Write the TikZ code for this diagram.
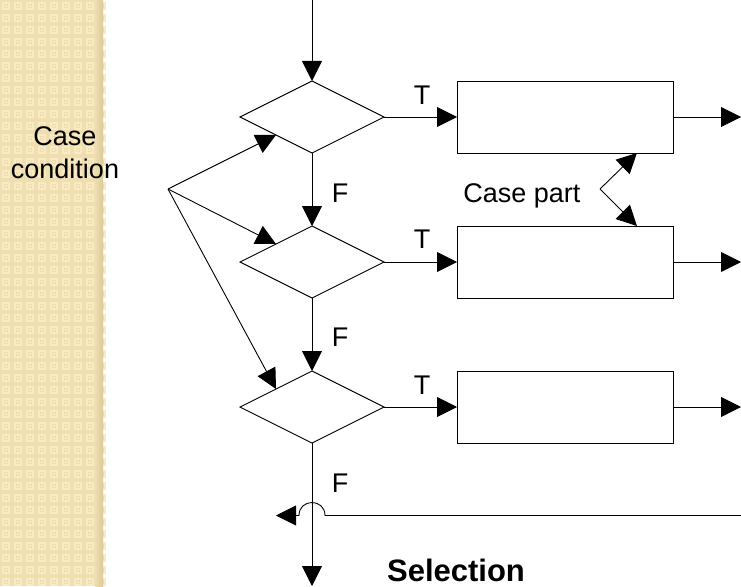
\documentclass[tikz,border=0pt]{standalone}
\usepackage{fontspec}
\setmainfont{Liberation Sans}
\usetikzlibrary{shapes.geometric,arrows.meta,calc}
\definecolor{stripbase}{RGB}{238,222,176}
\definecolor{striplight}{RGB}{248,234,194}
\definecolor{stripdark}{RGB}{220,202,152}
\begin{document}
\begin{tikzpicture}[x=1pt,y=-1pt,
  line width=0.9pt,
  tip/.style={-{Triangle[length=20pt,width=20pt]}},
  dec/.style={diamond,draw,minimum width=144pt,minimum height=72pt,inner sep=0pt,outer sep=0pt},
  proc/.style={rectangle,draw,minimum width=216pt,minimum height=72pt,inner sep=0pt,outer sep=0pt},
  lbl/.style={font=\fontsize{27}{33}\selectfont,inner sep=0pt,anchor=base},
  title/.style={font=\fontsize{31}{37}\selectfont\bfseries,inner sep=0pt,anchor=base},
]
\useasboundingbox (0,0) rectangle (741,586);
% textured side strip
\fill[stripbase] (0,0) rectangle (103,586);
\foreach \i in {0,...,8}{\foreach \j in {0,...,48}{
  \fill[striplight] (\i*12+2,\j*12+2) rectangle +(8,8);
  \fill[stripbase] (\i*12+4,\j*12+4) rectangle +(4,4);
  \fill[striplight] (\i*12+5,\j*12+5) rectangle +(2,2);}}
\shade[left color=stripbase,right color=stripdark] (95,0) rectangle (103,586);

% nodes
\coordinate (top) at (312,0);
\node[dec] (d1) at (312,117) {};
\node[dec] (d2) at (312,262) {};
\node[dec] (d3) at (312,407) {};
\node[proc] (b1) at (565,117) {};
\node[proc] (b2) at (565,262) {};
\node[proc] (b3) at (565,407) {};
\coordinate (o1) at (741,117);
\coordinate (o2) at (741,262);
\coordinate (o3) at (741,407);
\coordinate (bot) at (312,586);
\coordinate (retR) at (741,515.5);
\coordinate (retL) at (276,515.5);
\coordinate (jx) at (d3.south |- retR);
\coordinate (fan) at (168,189);
\coordinate (cp) at (600,189);

% main flow
\draw[tip] (top) -- (d1.north);
\draw[tip] (d1.south) -- (d2.north);
\draw[tip] (d2.south) -- (d3.north);
\draw[tip] (d3.south) -- (bot);
\draw[tip] (d1.east) -- (b1.west);
\draw[tip] (d2.east) -- (b2.west);
\draw[tip] (d3.east) -- (b3.west);
\draw[tip] (b1.east) -- (o1);
\draw[tip] (b2.east) -- (o2);
\draw[tip] (b3.east) -- (o3);
\draw[tip] (retR) -- ($(jx)+(13,0)$) .. controls ($(jx)+(13,-17.3)$) and ($(jx)+(-13,-17.3)$) .. ($(jx)+(-13,0)$) -- (retL);

% case condition fan
\draw[tip] (fan) -- ($(d1.west)!0.5!(d1.south)$);
\draw[tip] (fan) -- ($(d2.west)!0.5!(d2.north)$);
\draw[tip] (fan) -- ($(d3.west)!0.5!(d3.north)$);

% case part
\draw[tip] (cp) -- ($(b1.south west)!0.833!(b1.south east)$);
\draw[tip] (cp) -- ($(b2.north west)!0.833!(b2.north east)$);

% labels
\node[lbl] (lcase) at (65,145) {Case};
\node[lbl] (lcond) at (65,178) {condition};
\node[lbl] (lpart) at (522,202) {Case part};
\node[lbl] (t1) at (422,104) {T};
\node[lbl] (t2) at (422,248) {T};
\node[lbl] (t3) at (422,394) {T};
\node[lbl] (f1) at (340,202) {F};
\node[lbl] (f2) at (340,346) {F};
\node[lbl] (f3) at (340,492) {F};
\node[title] (sel) at (456,581) {Selection};
\end{tikzpicture}
\end{document}
